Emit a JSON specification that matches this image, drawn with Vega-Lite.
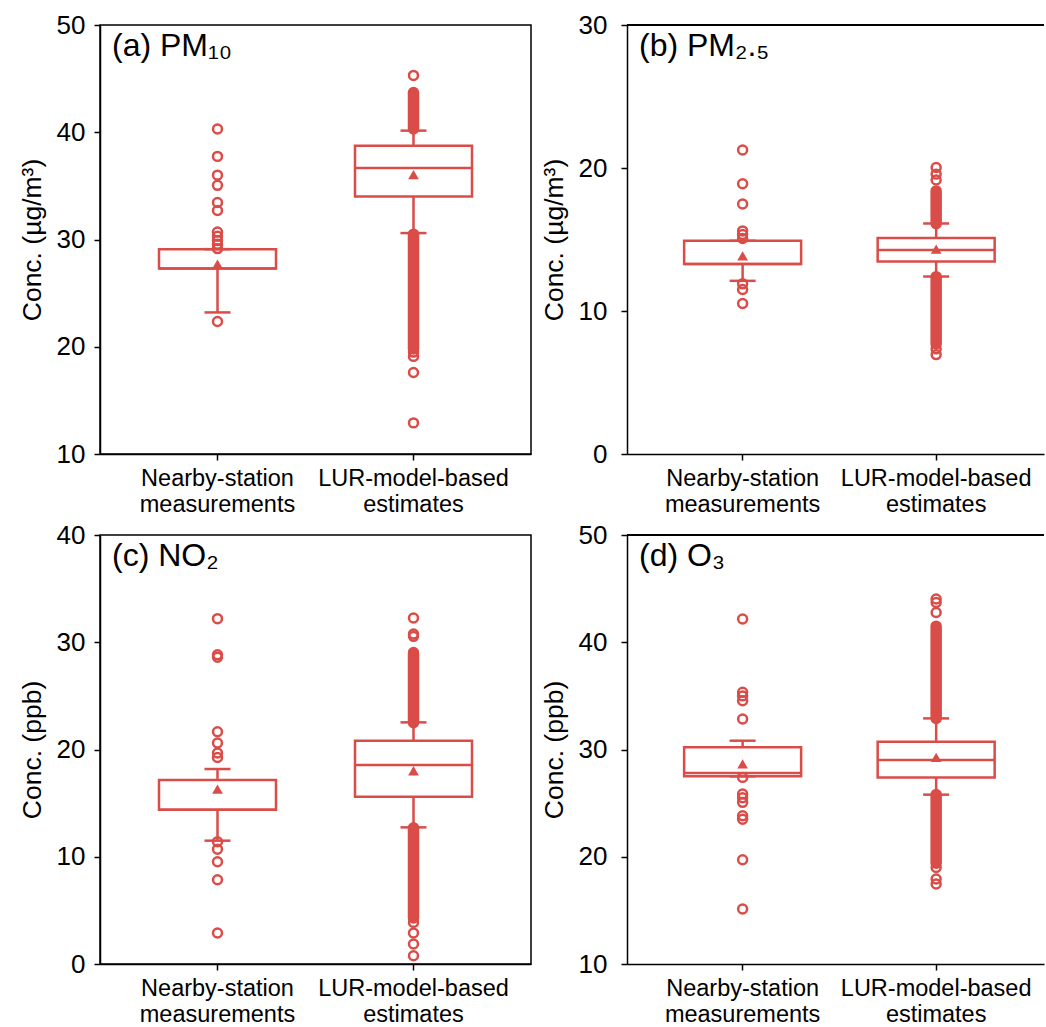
{
  "$schema": "https://vega.github.io/schema/vega-lite/v6.json",
  "padding": {"left": 18, "top": 11, "right": 0, "bottom": 0},
  "background": "white",
  "config": {
    "font": "Liberation Sans",
    "view": {"stroke": "black", "strokeWidth": 1.5},
    "axis": {"domainColor": "black", "domainWidth": 1.5, "tickColor": "black", "tickWidth": 1.5, "tickSize": 6, "labelColor": "black", "titleColor": "black", "labelFont": "Liberation Sans", "titleFont": "Liberation Sans", "grid": false, "titleFontWeight": "normal"},
    "axisY": {"labelFontSize": 26, "titleFontSize": 26.5, "labelPadding": 9, "titlePadding": 10, "labelFlush": false, "labelOverlap": false},
    "axisX": {"labelFontSize": 23.5, "labelAngle": 0, "labelPadding": 6, "labelLineHeight": 26, "labelLimit": 400, "labelExpr": "split(datum.label, ' ')", "title": null},
    "title": {"font": "Liberation Sans", "fontSize": 32, "fontWeight": "normal", "color": "black", "anchor": "start", "frame": "group", "orient": "top", "offset": -51, "dx": 12, "baseline": "alphabetic"}
  },
  "datasets": {
    "all": [
      {"panel": "a", "kind": "box", "group": "Nearby-station measurements", "q1": 27.3, "med": 27.3, "q3": 29.1, "wlo": 23.2, "whi": 29.1, "mean": 27.7},
      {"panel": "a", "kind": "box", "group": "LUR-model-based estimates", "q1": 34.0, "med": 36.67, "q3": 38.75, "wlo": 30.6, "whi": 40.15, "mean": 36.04},
      {"panel": "b", "kind": "box", "group": "Nearby-station measurements", "q1": 13.28, "med": 13.28, "q3": 14.91, "wlo": 12.11, "whi": 14.91, "mean": 13.86},
      {"panel": "b", "kind": "box", "group": "LUR-model-based estimates", "q1": 13.46, "med": 14.26, "q3": 15.1, "wlo": 12.41, "whi": 16.12, "mean": 14.33},
      {"panel": "c", "kind": "box", "group": "Nearby-station measurements", "q1": 14.39, "med": 14.39, "q3": 17.16, "wlo": 11.5, "whi": 18.18, "mean": 16.3},
      {"panel": "c", "kind": "box", "group": "LUR-model-based estimates", "q1": 15.6, "med": 18.55, "q3": 20.82, "wlo": 12.74, "whi": 22.53, "mean": 18.02},
      {"panel": "d", "kind": "box", "group": "Nearby-station measurements", "q1": 27.5, "med": 27.8, "q3": 30.2, "wlo": 27.5, "whi": 30.82, "mean": 28.65},
      {"panel": "d", "kind": "box", "group": "LUR-model-based estimates", "q1": 27.4, "med": 29.02, "q3": 30.73, "wlo": 25.79, "whi": 32.9, "mean": 29.26},

      {"panel": "a", "kind": "dense", "group": "LUR-model-based estimates", "lo": 40.3, "hi": 43.7},
      {"panel": "a", "kind": "dense", "group": "LUR-model-based estimates", "lo": 19.8, "hi": 30.5},
      {"panel": "b", "kind": "dense", "group": "LUR-model-based estimates", "lo": 16.1, "hi": 18.4},
      {"panel": "b", "kind": "dense", "group": "LUR-model-based estimates", "lo": 7.7, "hi": 12.4},
      {"panel": "c", "kind": "dense", "group": "LUR-model-based estimates", "lo": 22.5, "hi": 28.9},
      {"panel": "c", "kind": "dense", "group": "LUR-model-based estimates", "lo": 4.3, "hi": 12.7},
      {"panel": "d", "kind": "dense", "group": "LUR-model-based estimates", "lo": 32.9, "hi": 41.5},
      {"panel": "d", "kind": "dense", "group": "LUR-model-based estimates", "lo": 19.4, "hi": 25.8},

      {"panel": "a", "kind": "out", "group": "Nearby-station measurements", "v": 40.3},
      {"panel": "a", "kind": "out", "group": "Nearby-station measurements", "v": 37.75},
      {"panel": "a", "kind": "out", "group": "Nearby-station measurements", "v": 36.0},
      {"panel": "a", "kind": "out", "group": "Nearby-station measurements", "v": 35.05},
      {"panel": "a", "kind": "out", "group": "Nearby-station measurements", "v": 33.45},
      {"panel": "a", "kind": "out", "group": "Nearby-station measurements", "v": 32.7},
      {"panel": "a", "kind": "out", "group": "Nearby-station measurements", "v": 30.7},
      {"panel": "a", "kind": "out", "group": "Nearby-station measurements", "v": 30.3},
      {"panel": "a", "kind": "out", "group": "Nearby-station measurements", "v": 29.9},
      {"panel": "a", "kind": "out", "group": "Nearby-station measurements", "v": 29.55},
      {"panel": "a", "kind": "out", "group": "Nearby-station measurements", "v": 29.15},
      {"panel": "a", "kind": "out", "group": "Nearby-station measurements", "v": 22.35},
      {"panel": "a", "kind": "out", "group": "LUR-model-based estimates", "v": 45.3},
      {"panel": "a", "kind": "out", "group": "LUR-model-based estimates", "v": 19.5},
      {"panel": "a", "kind": "out", "group": "LUR-model-based estimates", "v": 19.1},
      {"panel": "a", "kind": "out", "group": "LUR-model-based estimates", "v": 17.6},
      {"panel": "a", "kind": "out", "group": "LUR-model-based estimates", "v": 12.9},

      {"panel": "b", "kind": "out", "group": "Nearby-station measurements", "v": 21.26},
      {"panel": "b", "kind": "out", "group": "Nearby-station measurements", "v": 18.9},
      {"panel": "b", "kind": "out", "group": "Nearby-station measurements", "v": 17.48},
      {"panel": "b", "kind": "out", "group": "Nearby-station measurements", "v": 15.6},
      {"panel": "b", "kind": "out", "group": "Nearby-station measurements", "v": 15.35},
      {"panel": "b", "kind": "out", "group": "Nearby-station measurements", "v": 15.07},
      {"panel": "b", "kind": "out", "group": "Nearby-station measurements", "v": 11.9},
      {"panel": "b", "kind": "out", "group": "Nearby-station measurements", "v": 11.5},
      {"panel": "b", "kind": "out", "group": "Nearby-station measurements", "v": 10.52},
      {"panel": "b", "kind": "out", "group": "LUR-model-based estimates", "v": 20.04},
      {"panel": "b", "kind": "out", "group": "LUR-model-based estimates", "v": 19.57},
      {"panel": "b", "kind": "out", "group": "LUR-model-based estimates", "v": 19.16},
      {"panel": "b", "kind": "out", "group": "LUR-model-based estimates", "v": 7.35},
      {"panel": "b", "kind": "out", "group": "LUR-model-based estimates", "v": 6.95},

      {"panel": "c", "kind": "out", "group": "Nearby-station measurements", "v": 32.2},
      {"panel": "c", "kind": "out", "group": "Nearby-station measurements", "v": 28.84},
      {"panel": "c", "kind": "out", "group": "Nearby-station measurements", "v": 28.6},
      {"panel": "c", "kind": "out", "group": "Nearby-station measurements", "v": 21.66},
      {"panel": "c", "kind": "out", "group": "Nearby-station measurements", "v": 20.6},
      {"panel": "c", "kind": "out", "group": "Nearby-station measurements", "v": 19.67},
      {"panel": "c", "kind": "out", "group": "Nearby-station measurements", "v": 19.26},
      {"panel": "c", "kind": "out", "group": "Nearby-station measurements", "v": 11.4},
      {"panel": "c", "kind": "out", "group": "Nearby-station measurements", "v": 10.7},
      {"panel": "c", "kind": "out", "group": "Nearby-station measurements", "v": 9.54},
      {"panel": "c", "kind": "out", "group": "Nearby-station measurements", "v": 7.86},
      {"panel": "c", "kind": "out", "group": "Nearby-station measurements", "v": 2.89},
      {"panel": "c", "kind": "out", "group": "LUR-model-based estimates", "v": 32.26},
      {"panel": "c", "kind": "out", "group": "LUR-model-based estimates", "v": 30.77},
      {"panel": "c", "kind": "out", "group": "LUR-model-based estimates", "v": 30.55},
      {"panel": "c", "kind": "out", "group": "LUR-model-based estimates", "v": 29.05},
      {"panel": "c", "kind": "out", "group": "LUR-model-based estimates", "v": 3.88},
      {"panel": "c", "kind": "out", "group": "LUR-model-based estimates", "v": 2.89},
      {"panel": "c", "kind": "out", "group": "LUR-model-based estimates", "v": 1.86},
      {"panel": "c", "kind": "out", "group": "LUR-model-based estimates", "v": 0.77},

      {"panel": "d", "kind": "out", "group": "Nearby-station measurements", "v": 42.17},
      {"panel": "d", "kind": "out", "group": "Nearby-station measurements", "v": 35.33},
      {"panel": "d", "kind": "out", "group": "Nearby-station measurements", "v": 35.0},
      {"panel": "d", "kind": "out", "group": "Nearby-station measurements", "v": 34.55},
      {"panel": "d", "kind": "out", "group": "Nearby-station measurements", "v": 32.84},
      {"panel": "d", "kind": "out", "group": "Nearby-station measurements", "v": 27.4},
      {"panel": "d", "kind": "out", "group": "Nearby-station measurements", "v": 25.85},
      {"panel": "d", "kind": "out", "group": "Nearby-station measurements", "v": 25.5},
      {"panel": "d", "kind": "out", "group": "Nearby-station measurements", "v": 25.07},
      {"panel": "d", "kind": "out", "group": "Nearby-station measurements", "v": 23.83},
      {"panel": "d", "kind": "out", "group": "Nearby-station measurements", "v": 23.5},
      {"panel": "d", "kind": "out", "group": "Nearby-station measurements", "v": 19.72},
      {"panel": "d", "kind": "out", "group": "Nearby-station measurements", "v": 15.13},
      {"panel": "d", "kind": "out", "group": "LUR-model-based estimates", "v": 44.03},
      {"panel": "d", "kind": "out", "group": "LUR-model-based estimates", "v": 43.7},
      {"panel": "d", "kind": "out", "group": "LUR-model-based estimates", "v": 42.78},
      {"panel": "d", "kind": "out", "group": "LUR-model-based estimates", "v": 19.0},
      {"panel": "d", "kind": "out", "group": "LUR-model-based estimates", "v": 17.93},
      {"panel": "d", "kind": "out", "group": "LUR-model-based estimates", "v": 17.46}
    ]
  },
  "data": {"name": "all"},
  "bounds": "flush",
  "columns": 2,
  "spacing": {"column": 96, "row": 81},
  "concat": [
    {
      "width": 431, "height": 429,
      "title": {"text": "(a) PM₁₀"},
      "transform": [{"filter": "datum.panel == 'a'"}],
      "encoding": {
        "x": {"field": "group", "type": "nominal", "sort": null, "scale": {"domain": ["Nearby-station measurements", "LUR-model-based estimates"], "paddingInner": 0, "paddingOuter": 0.0995, "align": 0.5}},
        "y": {"type": "quantitative", "scale": {"domain": [10, 50], "nice": false, "zero": false}, "axis": {"values": [10, 20, 30, 40, 50], "title": "Conc. (µg/m³)"}}
      },
      "layer": [
        {"transform": [{"filter": "datum.kind == 'box'"}], "mark": {"type": "bar", "width": 117, "fill": "white", "stroke": "#DA4C48", "strokeWidth": 2.5}, "encoding": {"y": {"field": "q1"}, "y2": {"field": "q3"}}},
        {"transform": [{"filter": "datum.kind == 'box'"}], "mark": {"type": "tick", "size": 117, "thickness": 2.5, "color": "#DA4C48", "opacity": 1}, "encoding": {"y": {"field": "med"}}},
        {"transform": [{"filter": "datum.kind == 'box'"}], "mark": {"type": "rule", "strokeWidth": 2.5, "color": "#DA4C48"}, "encoding": {"y": {"field": "q3"}, "y2": {"field": "whi"}}},
        {"transform": [{"filter": "datum.kind == 'box'"}], "mark": {"type": "rule", "strokeWidth": 2.5, "color": "#DA4C48"}, "encoding": {"y": {"field": "wlo"}, "y2": {"field": "q1"}}},
        {"transform": [{"filter": "datum.kind == 'box'"}], "mark": {"type": "tick", "size": 26, "thickness": 2.5, "color": "#DA4C48", "opacity": 1}, "encoding": {"y": {"field": "whi"}}},
        {"transform": [{"filter": "datum.kind == 'box'"}], "mark": {"type": "tick", "size": 26, "thickness": 2.5, "color": "#DA4C48", "opacity": 1}, "encoding": {"y": {"field": "wlo"}}},
        {"transform": [{"filter": "datum.kind == 'dense'"}], "mark": {"type": "rule", "strokeWidth": 11.5, "strokeCap": "round", "color": "#DA4C48"}, "encoding": {"y": {"field": "lo"}, "y2": {"field": "hi"}}},
        {"transform": [{"filter": "datum.kind == 'out'"}], "mark": {"type": "point", "shape": "circle", "filled": false, "size": 80, "strokeWidth": 2.5, "color": "#DA4C48", "opacity": 1}, "encoding": {"y": {"field": "v"}}},
        {"transform": [{"filter": "datum.kind == 'box'"}], "mark": {"type": "point", "shape": "triangle-up", "filled": true, "size": 115, "color": "#DA4C48", "opacity": 1}, "encoding": {"y": {"field": "mean"}}}
      ]
    },
    {
      "width": 417, "height": 429,
      "view": {"stroke": null},
      "title": {"text": "(b) PM₂.₅"},
      "transform": [{"filter": "datum.panel == 'b'"}],
      "encoding": {
        "x": {"field": "group", "type": "nominal", "sort": null, "scale": {"domain": ["Nearby-station measurements", "LUR-model-based estimates"], "paddingInner": 0, "paddingOuter": 0.0773, "align": 0.63}},
        "y": {"type": "quantitative", "scale": {"domain": [0, 30], "nice": false, "zero": false}, "axis": {"values": [0, 10, 20, 30], "title": "Conc. (µg/m³)", "labelPadding": 14}}
      },
      "layer": [
        {"mark": {"type": "rule", "strokeWidth": 1.5, "color": "black"}, "encoding": {"x": null, "y": {"datum": 30}}},
        {"transform": [{"filter": "datum.kind == 'box'"}], "mark": {"type": "bar", "width": 117, "fill": "white", "stroke": "#DA4C48", "strokeWidth": 2.5}, "encoding": {"y": {"field": "q1"}, "y2": {"field": "q3"}}},
        {"transform": [{"filter": "datum.kind == 'box'"}], "mark": {"type": "tick", "size": 117, "thickness": 2.5, "color": "#DA4C48", "opacity": 1}, "encoding": {"y": {"field": "med"}}},
        {"transform": [{"filter": "datum.kind == 'box'"}], "mark": {"type": "rule", "strokeWidth": 2.5, "color": "#DA4C48"}, "encoding": {"y": {"field": "q3"}, "y2": {"field": "whi"}}},
        {"transform": [{"filter": "datum.kind == 'box'"}], "mark": {"type": "rule", "strokeWidth": 2.5, "color": "#DA4C48"}, "encoding": {"y": {"field": "wlo"}, "y2": {"field": "q1"}}},
        {"transform": [{"filter": "datum.kind == 'box'"}], "mark": {"type": "tick", "size": 26, "thickness": 2.5, "color": "#DA4C48", "opacity": 1}, "encoding": {"y": {"field": "whi"}}},
        {"transform": [{"filter": "datum.kind == 'box'"}], "mark": {"type": "tick", "size": 26, "thickness": 2.5, "color": "#DA4C48", "opacity": 1}, "encoding": {"y": {"field": "wlo"}}},
        {"transform": [{"filter": "datum.kind == 'dense'"}], "mark": {"type": "rule", "strokeWidth": 11.5, "strokeCap": "round", "color": "#DA4C48"}, "encoding": {"y": {"field": "lo"}, "y2": {"field": "hi"}}},
        {"transform": [{"filter": "datum.kind == 'out'"}], "mark": {"type": "point", "shape": "circle", "filled": false, "size": 80, "strokeWidth": 2.5, "color": "#DA4C48", "opacity": 1}, "encoding": {"y": {"field": "v"}}},
        {"transform": [{"filter": "datum.kind == 'box'"}], "mark": {"type": "point", "shape": "triangle-up", "filled": true, "size": 115, "color": "#DA4C48", "opacity": 1}, "encoding": {"y": {"field": "mean"}}}
      ]
    },
    {
      "width": 431, "height": 429,
      "title": {"text": "(c) NO₂"},
      "transform": [{"filter": "datum.panel == 'c'"}],
      "encoding": {
        "x": {"field": "group", "type": "nominal", "sort": null, "scale": {"domain": ["Nearby-station measurements", "LUR-model-based estimates"], "paddingInner": 0, "paddingOuter": 0.0995, "align": 0.5}},
        "y": {"type": "quantitative", "scale": {"domain": [0, 40], "nice": false, "zero": false}, "axis": {"values": [0, 10, 20, 30, 40], "title": "Conc. (ppb)"}}
      },
      "layer": [
        {"transform": [{"filter": "datum.kind == 'box'"}], "mark": {"type": "bar", "width": 117, "fill": "white", "stroke": "#DA4C48", "strokeWidth": 2.5}, "encoding": {"y": {"field": "q1"}, "y2": {"field": "q3"}}},
        {"transform": [{"filter": "datum.kind == 'box'"}], "mark": {"type": "tick", "size": 117, "thickness": 2.5, "color": "#DA4C48", "opacity": 1}, "encoding": {"y": {"field": "med"}}},
        {"transform": [{"filter": "datum.kind == 'box'"}], "mark": {"type": "rule", "strokeWidth": 2.5, "color": "#DA4C48"}, "encoding": {"y": {"field": "q3"}, "y2": {"field": "whi"}}},
        {"transform": [{"filter": "datum.kind == 'box'"}], "mark": {"type": "rule", "strokeWidth": 2.5, "color": "#DA4C48"}, "encoding": {"y": {"field": "wlo"}, "y2": {"field": "q1"}}},
        {"transform": [{"filter": "datum.kind == 'box'"}], "mark": {"type": "tick", "size": 26, "thickness": 2.5, "color": "#DA4C48", "opacity": 1}, "encoding": {"y": {"field": "whi"}}},
        {"transform": [{"filter": "datum.kind == 'box'"}], "mark": {"type": "tick", "size": 26, "thickness": 2.5, "color": "#DA4C48", "opacity": 1}, "encoding": {"y": {"field": "wlo"}}},
        {"transform": [{"filter": "datum.kind == 'dense'"}], "mark": {"type": "rule", "strokeWidth": 11.5, "strokeCap": "round", "color": "#DA4C48"}, "encoding": {"y": {"field": "lo"}, "y2": {"field": "hi"}}},
        {"transform": [{"filter": "datum.kind == 'out'"}], "mark": {"type": "point", "shape": "circle", "filled": false, "size": 80, "strokeWidth": 2.5, "color": "#DA4C48", "opacity": 1}, "encoding": {"y": {"field": "v"}}},
        {"transform": [{"filter": "datum.kind == 'box'"}], "mark": {"type": "point", "shape": "triangle-up", "filled": true, "size": 115, "color": "#DA4C48", "opacity": 1}, "encoding": {"y": {"field": "mean"}}}
      ]
    },
    {
      "width": 417, "height": 429,
      "view": {"stroke": null},
      "title": {"text": "(d) O₃"},
      "transform": [{"filter": "datum.panel == 'd'"}],
      "encoding": {
        "x": {"field": "group", "type": "nominal", "sort": null, "scale": {"domain": ["Nearby-station measurements", "LUR-model-based estimates"], "paddingInner": 0, "paddingOuter": 0.0773, "align": 0.63}},
        "y": {"type": "quantitative", "scale": {"domain": [10, 50], "nice": false, "zero": false}, "axis": {"values": [10, 20, 30, 40, 50], "title": "Conc. (ppb)", "labelPadding": 14}}
      },
      "layer": [
        {"mark": {"type": "rule", "strokeWidth": 1.5, "color": "black"}, "encoding": {"x": null, "y": {"datum": 50}}},
        {"transform": [{"filter": "datum.kind == 'box'"}], "mark": {"type": "bar", "width": 117, "fill": "white", "stroke": "#DA4C48", "strokeWidth": 2.5}, "encoding": {"y": {"field": "q1"}, "y2": {"field": "q3"}}},
        {"transform": [{"filter": "datum.kind == 'box'"}], "mark": {"type": "tick", "size": 117, "thickness": 2.5, "color": "#DA4C48", "opacity": 1}, "encoding": {"y": {"field": "med"}}},
        {"transform": [{"filter": "datum.kind == 'box'"}], "mark": {"type": "rule", "strokeWidth": 2.5, "color": "#DA4C48"}, "encoding": {"y": {"field": "q3"}, "y2": {"field": "whi"}}},
        {"transform": [{"filter": "datum.kind == 'box'"}], "mark": {"type": "rule", "strokeWidth": 2.5, "color": "#DA4C48"}, "encoding": {"y": {"field": "wlo"}, "y2": {"field": "q1"}}},
        {"transform": [{"filter": "datum.kind == 'box'"}], "mark": {"type": "tick", "size": 26, "thickness": 2.5, "color": "#DA4C48", "opacity": 1}, "encoding": {"y": {"field": "whi"}}},
        {"transform": [{"filter": "datum.kind == 'box'"}], "mark": {"type": "tick", "size": 26, "thickness": 2.5, "color": "#DA4C48", "opacity": 1}, "encoding": {"y": {"field": "wlo"}}},
        {"transform": [{"filter": "datum.kind == 'dense'"}], "mark": {"type": "rule", "strokeWidth": 11.5, "strokeCap": "round", "color": "#DA4C48"}, "encoding": {"y": {"field": "lo"}, "y2": {"field": "hi"}}},
        {"transform": [{"filter": "datum.kind == 'out'"}], "mark": {"type": "point", "shape": "circle", "filled": false, "size": 80, "strokeWidth": 2.5, "color": "#DA4C48", "opacity": 1}, "encoding": {"y": {"field": "v"}}},
        {"transform": [{"filter": "datum.kind == 'box'"}], "mark": {"type": "point", "shape": "triangle-up", "filled": true, "size": 115, "color": "#DA4C48", "opacity": 1}, "encoding": {"y": {"field": "mean"}}}
      ]
    }
  ]
}
